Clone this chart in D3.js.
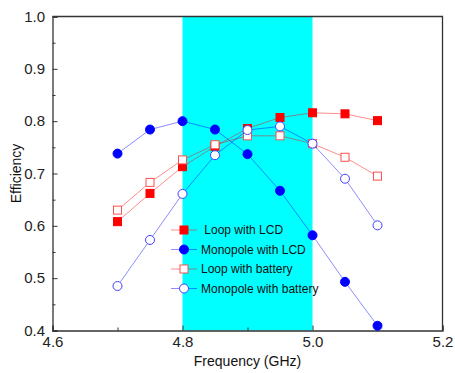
<!DOCTYPE html>
<html>
<head>
<meta charset="utf-8">
<script src="https://cdn.jsdelivr.net/npm/d3@7"></script>
<style>
  body { margin: 0; background: #fff; }
  text { font-family: Arial, "Liberation Sans", sans-serif; }
</style>
</head>
<body>
<svg id="chart" width="455" height="373"></svg>
<script>
const freqs = [4.7, 4.75, 4.8, 4.85, 4.9, 4.95, 5.0, 5.05, 5.1];
const loopLCD = [0.608, 0.662, 0.713, 0.752, 0.786, 0.807, 0.816, 0.814, 0.801];
const monoLCD = [0.738, 0.784, 0.800, 0.784, 0.737, 0.667, 0.582, 0.493, 0.409];
const loopBat = [0.630, 0.683, 0.726, 0.755, 0.772, 0.772, 0.757, 0.731, 0.695];
const monoBat = [0.485, 0.573, 0.661, 0.735, 0.783, 0.790, 0.757, 0.690, 0.601];
const band = [4.8, 5.0];
const xTicks = [4.6, 4.8, 5.0, 5.2];
const yTicks = [0.4, 0.5, 0.6, 0.7, 0.8, 0.9, 1.0];

const series = [
  { name: " Loop with LCD", values: loopLCD, color: "#ff0000", shape: "square", filled: true },
  { name: "Monopole with LCD", values: monoLCD, color: "#0000ff", shape: "circle", filled: true },
  { name: "Loop with battery", values: loopBat, color: "#ff0000", shape: "square", filled: false },
  { name: "Monopole with battery", values: monoBat, color: "#0000ff", shape: "circle", filled: false }
];

const svg = d3.select("#chart");
const m = { left: 52.5, right: 12.5, top: 16.5, bottom: 42.5 };
const W = 455, H = 373;

const x = d3.scaleLinear().domain([4.6, 5.2]).range([m.left, W - m.right]);
const y = d3.scaleLinear().domain([0.4, 1.0]).range([H - m.bottom, m.top]);

// cyan band
svg.append("rect")
  .attr("x", x(band[0])).attr("y", y(1.0))
  .attr("width", x(band[1]) - x(band[0]))
  .attr("height", y(0.4) - y(1.0))
  .attr("fill", "#00ffff");

// axes with inward ticks
const axisColor = "#333";
const xAxis = svg.append("g").attr("transform", `translate(0,${y(0.4)})`)
  .call(d3.axisBottom(x).tickValues(xTicks).tickFormat(d3.format(".1f")).tickSize(-5).tickPadding(6));
svg.append("g").attr("transform", `translate(0,${y(0.4)})`)
  .call(d3.axisBottom(x).tickValues([4.7, 4.9, 5.1]).tickFormat("").tickSize(-3))
  .call(g => g.select(".domain").remove());

const yAxis = svg.append("g").attr("transform", `translate(${x(4.6)},0)`)
  .call(d3.axisLeft(y).tickValues(yTicks).tickFormat(d3.format(".1f")).tickSize(-5).tickPadding(7.5));
svg.append("g").attr("transform", `translate(${x(4.6)},0)`)
  .call(d3.axisLeft(y).tickValues([0.45, 0.55, 0.65, 0.75, 0.85, 0.95]).tickFormat("").tickSize(-3))
  .call(g => g.select(".domain").remove());

svg.selectAll(".tick line").attr("stroke", axisColor);
svg.selectAll(".domain").attr("stroke", axisColor).attr("stroke-width", 1.3);
svg.selectAll(".tick text").attr("font-size", 15).attr("fill", "#222");

// frame top/right
svg.append("path")
  .attr("d", `M${x(4.6)},${y(1.0)}H${x(5.2)}V${y(0.4)}`)
  .attr("fill", "none").attr("stroke", axisColor).attr("stroke-width", 1.3);

// axis titles
svg.append("text")
  .attr("x", (x(4.6) + x(5.2)) / 2).attr("y", 366)
  .attr("text-anchor", "middle").attr("font-size", 14).attr("fill", "#111")
  .text("Frequency (GHz)");
svg.append("text")
  .attr("transform", `translate(21,${(y(0.4) + y(1.0)) / 2}) rotate(-90)`)
  .attr("text-anchor", "middle").attr("font-size", 14).attr("fill", "#111")
  .text("Efficiency");

const line = d3.line().x((d, i) => x(freqs[i])).y(d => y(d));

function drawMarker(g, s, cx, cy) {
  if (s.shape === "square") {
    g.append("rect")
      .attr("x", cx - 4).attr("y", cy - 4).attr("width", 8).attr("height", 8)
      .attr("fill", s.filled ? s.color : "#fff")
      .attr("stroke", s.filled ? s.color : "#ff5050")
      .attr("stroke-width", 1);
  } else {
    g.append("circle")
      .attr("cx", cx).attr("cy", cy).attr("r", 4.5)
      .attr("fill", s.filled ? s.color : "#fff")
      .attr("stroke", s.filled ? s.color : "#4040ff")
      .attr("stroke-width", 1);
  }
}

series.forEach(s => {
  svg.append("path")
    .datum(s.values)
    .attr("d", line)
    .attr("fill", "none")
    .attr("stroke", s.color)
    .attr("stroke-opacity", 0.45)
    .attr("stroke-width", 1);
  const g = svg.append("g");
  s.values.forEach((v, i) => drawMarker(g, s, x(freqs[i]), y(v)));
});

// legend
const legend = svg.append("g");
series.forEach((s, i) => {
  const ly = 230 + i * 19.5;
  legend.append("line")
    .attr("x1", 171).attr("x2", 197).attr("y1", ly).attr("y2", ly)
    .attr("stroke", s.color).attr("stroke-opacity", 0.45);
  drawMarker(legend, s, 184, ly);
  legend.append("text")
    .attr("x", 201).attr("y", ly).attr("dy", "0.35em")
    .attr("font-size", 12).attr("fill", "#111")
    .attr("xml:space", "preserve")
    .style("white-space", "pre")
    .text(s.name);
});
</script>
</body>
</html>
